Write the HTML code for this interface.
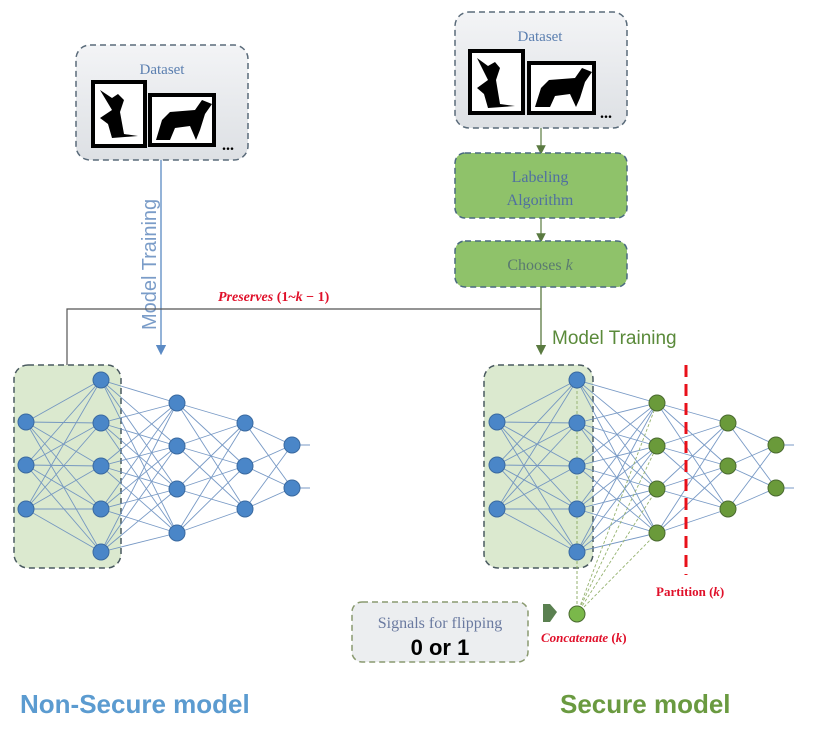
<!DOCTYPE html>
<html><head><style>
body{margin:0;background:#fff;}
</style></head><body>
<svg width="813" height="727" xmlns="http://www.w3.org/2000/svg" font-family="Liberation Serif, serif">
<defs>
<marker id="ab" markerWidth="8" markerHeight="8" refX="4" refY="4" orient="auto"><path d="M0,0 L8,4 L0,8z" fill="#5b8ac4"/></marker>
<marker id="ag" markerWidth="8" markerHeight="8" refX="4" refY="4" orient="auto"><path d="M0,0 L8,4 L0,8z" fill="#5a7a40"/></marker>
<linearGradient id="gb" x1="0" y1="0" x2="0" y2="1"><stop offset="0" stop-color="#f3f4f6"/><stop offset="1" stop-color="#dde0e4"/></linearGradient>
</defs>
<rect x="76" y="45" width="172" height="115" rx="14" fill="url(#gb)" stroke="#5a6b7a" stroke-width="1.5" stroke-dasharray="6,4"/>
<text x="162" y="74" font-size="15" fill="#5b7fb0" text-anchor="middle">Dataset</text>
<rect x="93" y="82" width="52" height="64" fill="#fff" stroke="#000" stroke-width="4"/>
<path d="M100,90 L112,98 L118,94 L124,100 L120,112 L124,134 L138,136 L112,138 L108,124 L100,118 L112,110 Z" fill="#000"/>
<rect x="150" y="95" width="64" height="50" fill="#fff" stroke="#000" stroke-width="4"/>
<path d="M156,140 L162,120 L170,112 L195,110 L202,100 L212,104 L205,114 L200,130 L196,140 L190,126 L175,128 L170,140 Z" fill="#000"/>
<text x="222" y="150" font-size="16" font-weight="bold" fill="#000">...</text>
<rect x="455" y="12" width="172" height="116" rx="14" fill="url(#gb)" stroke="#5a6b7a" stroke-width="1.5" stroke-dasharray="6,4"/>
<text x="540" y="41" font-size="15" fill="#5b7fb0" text-anchor="middle">Dataset</text>
<rect x="470" y="51" width="53" height="62" fill="#fff" stroke="#000" stroke-width="4"/>
<path d="M477,58 L488,66 L495,62 L500,68 L496,80 L500,104 L515,106 L488,108 L484,94 L477,88 L488,80 Z" fill="#000"/>
<rect x="529" y="63" width="65" height="50" fill="#fff" stroke="#000" stroke-width="4"/>
<path d="M535,107 L541,88 L549,80 L575,78 L582,68 L592,72 L585,82 L580,98 L576,107 L570,94 L555,96 L550,107 Z" fill="#000"/>
<text x="600" y="118" font-size="16" font-weight="bold" fill="#000">...</text>
<line x1="541" y1="128" x2="541" y2="150" stroke="#5a7a40" stroke-width="1.2" marker-end="url(#ag)"/>
<rect x="455" y="153" width="172" height="65" rx="10" fill="#8fc26a" stroke="#4a6a80" stroke-width="1.5" stroke-dasharray="6,4"/>
<text x="540" y="182" font-size="16" fill="#5070a0" text-anchor="middle">Labeling</text>
<text x="540" y="205" font-size="16" fill="#5070a0" text-anchor="middle">Algorithm</text>
<line x1="541" y1="218" x2="541" y2="238" stroke="#5a7a40" stroke-width="1.2" marker-end="url(#ag)"/>
<rect x="455" y="241" width="172" height="46" rx="10" fill="#8fc26a" stroke="#4a6a80" stroke-width="1.5" stroke-dasharray="6,4"/>
<text x="540" y="270" font-size="16" fill="#5a7a70" text-anchor="middle">Chooses <tspan font-style="italic">k</tspan></text>
<line x1="161" y1="160" x2="161" y2="350" stroke="#5b8ac4" stroke-width="1.3" marker-end="url(#ab)"/>
<text transform="translate(156,330) rotate(-90)" font-family="Liberation Sans, sans-serif" font-size="20" fill="#7a9cc8">Model Training</text>
<polyline points="67,365 67,309 541,309" fill="none" stroke="#555" stroke-width="1.2"/>
<line x1="541" y1="287" x2="541" y2="350" stroke="#5a7a40" stroke-width="1.3" marker-end="url(#ag)"/>
<text x="218" y="301" font-size="14" font-weight="bold" font-style="italic" fill="#e0102a">Preserves <tspan font-style="normal">(1~</tspan>k<tspan font-style="normal"> − 1)</tspan></text>
<text x="552" y="344" font-family="Liberation Sans, sans-serif" font-size="19" fill="#5a8a3a">Model Training</text>
<rect x="14" y="365" width="107" height="203" rx="14" fill="#dbe9cf" stroke="#4a5a60" stroke-width="1.5" stroke-dasharray="6,4"/>
<rect x="484" y="365" width="109" height="203" rx="14" fill="#dbe9cf" stroke="#4a5a60" stroke-width="1.5" stroke-dasharray="6,4"/>
<g id="nets" stroke="#6a8fbf" stroke-width="0.9" opacity="0.9"></g>
<line x1="686" y1="365" x2="686" y2="575" stroke="#e8101a" stroke-width="3" stroke-dasharray="12,7"/>
<text x="656" y="596" font-size="13" font-weight="bold" fill="#e0102a">Partition (<tspan font-style="italic">k</tspan>)</text>
<rect x="352" y="602" width="176" height="60" rx="10" fill="#eceef0" stroke="#8a9a70" stroke-width="1.5" stroke-dasharray="6,4"/>
<text x="440" y="628" font-size="16" fill="#6a7aa0" text-anchor="middle">Signals for flipping</text>
<text x="440" y="655" font-family="Liberation Sans, sans-serif" font-size="22" font-weight="bold" fill="#000" text-anchor="middle">0 or 1</text>
<path d="M543,604 L550,604 L557,612 L550,622 L543,622 Z" fill="#5a8050"/>
<text x="541" y="642" font-size="13" font-weight="bold" font-style="italic" fill="#e0102a">Concatenate <tspan font-style="normal">(</tspan>k<tspan font-style="normal">)</tspan></text>
<text x="20" y="713" font-family="Liberation Sans, sans-serif" font-size="26" font-weight="bold" fill="#5b9bd0">Non-Secure model</text>
<text x="560" y="713" font-family="Liberation Sans, sans-serif" font-size="26" font-weight="bold" fill="#6a9a40">Secure model</text>
<g id="nodes"></g>
</svg>
<script>
var L=[[422,465,509],[380,423,466,509,552],[403,446,489,533],[423,466,509],[445,488]];
var ns="http://www.w3.org/2000/svg",nets=document.getElementById('nets'),nodes=document.getElementById('nodes');
function mk(t,a,p){var e=document.createElementNS(ns,t);for(var k in a)e.setAttribute(k,a[k]);p.appendChild(e);return e;}
function net(xs,greenFrom){
 for(var i=0;i<4;i++)for(var a of L[i])for(var b of L[i+1])mk('line',{x1:xs[i],y1:a,x2:xs[i+1],y2:b},nets);
 for(var b of L[4])mk('line',{x1:xs[4],y1:b,x2:xs[4]+18,y2:b},nets);
 for(var i=0;i<5;i++)for(var y of L[i])mk('circle',{cx:xs[i],cy:y,r:8,fill:i>=greenFrom?'#6a9a3a':'#4a86c8',stroke:i>=greenFrom?'#4a6a30':'#3a6aa0','stroke-width':1},nodes);
}
net([26,101,177,245,292],9);
net([497,577,657,728,776],2);
for(var y of L[1])mk('line',{x1:577,y1:614,x2:577,y2:y,stroke:'#8aaa60','stroke-dasharray':'3,2'},nets);
for(var y of L[2])mk('line',{x1:577,y1:614,x2:657,y2:y,stroke:'#8aaa60','stroke-dasharray':'3,2'},nets);
mk('circle',{cx:577,cy:614,r:8,fill:'#7ab84a',stroke:'#4a6a30'},nodes);
</script>
</body></html>
